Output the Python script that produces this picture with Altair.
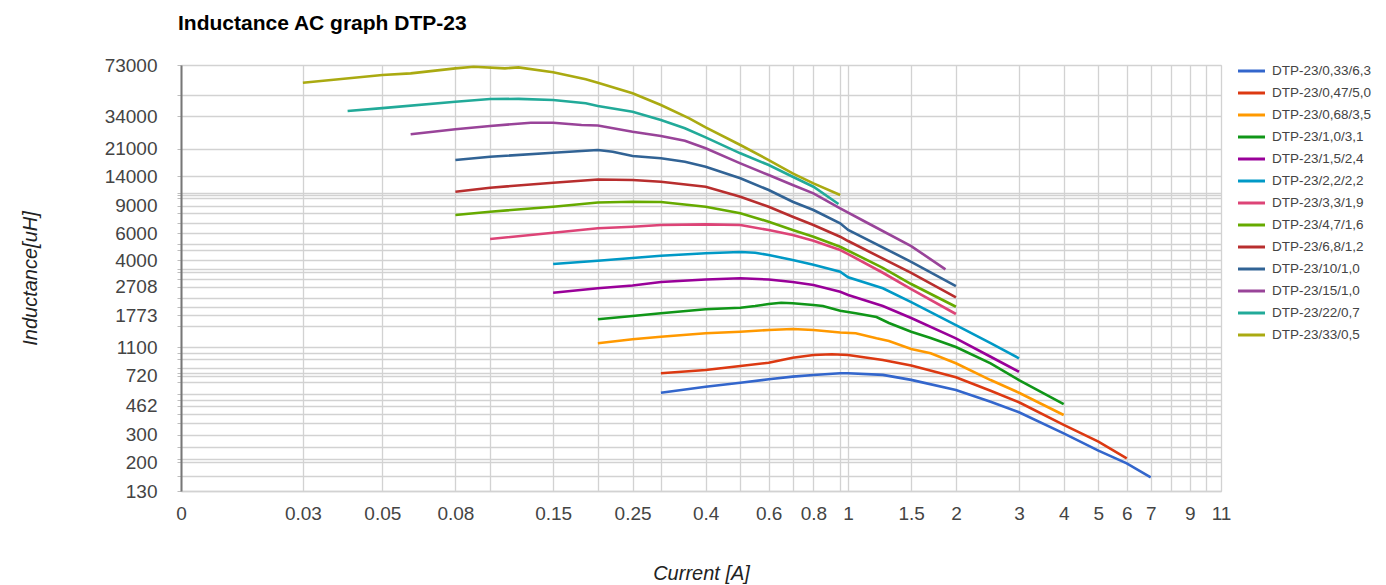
import json
import altair as alt
import pandas as pd

FONT = "Liberation Sans"

names = [
    "DTP-23/0,33/6,3", "DTP-23/0,47/5,0", "DTP-23/0,68/3,5", "DTP-23/1,0/3,1",
    "DTP-23/1,5/2,4", "DTP-23/2,2/2,2", "DTP-23/3,3/1,9", "DTP-23/4,7/1,6",
    "DTP-23/6,8/1,2", "DTP-23/10/1,0", "DTP-23/15/1,0", "DTP-23/22/0,7",
    "DTP-23/33/0,5",
]
colors = ["#3366cc", "#dc3912", "#ff9900", "#109618", "#990099", "#0099c6",
          "#dd4477", "#66aa00", "#b82e2e", "#316395", "#994499", "#22aa99",
          "#aaaa11"]

i_033 = [0.3, 0.4, 0.5, 0.6, 0.7, 0.8, 0.95, 1.0, 1.25, 1.5, 2, 2.5, 3, 4, 5, 6, 7]
l_033 = [560, 612, 650, 684, 711, 729, 748, 748, 730, 678, 583, 490, 419, 306, 237, 196, 159]

i_047 = [0.3, 0.4, 0.5, 0.6, 0.7, 0.8, 0.9, 1.0, 1.25, 1.5, 2, 2.5, 3, 4, 5, 6]
l_047 = [748, 785, 833, 875, 943, 981, 991, 981, 910, 839, 704, 577, 486, 347, 271, 211]

i_068 = [0.2, 0.25, 0.3, 0.4, 0.5, 0.6, 0.7, 0.8, 0.95, 1.05, 1.2, 1.3, 1.5, 1.7, 2, 2.5, 3, 4]
l_068 = [1167, 1239, 1287, 1354, 1387, 1422, 1443, 1422, 1370, 1354, 1257, 1208, 1072, 1006, 867, 676, 560, 402]

i_10 = [0.2, 0.25, 0.3, 0.4, 0.5, 0.55, 0.6, 0.65, 0.7, 0.8, 0.85, 0.95, 1.05, 1.2, 1.3, 1.5, 1.7, 2, 2.5, 3, 4]
l_10 = [1667, 1751, 1823, 1935, 1981, 2032, 2093, 2134, 2115, 2062, 2032, 1894, 1823, 1725, 1578, 1387, 1263, 1105, 867, 676, 473]

i_15 = [0.15, 0.2, 0.25, 0.3, 0.4, 0.5, 0.6, 0.7, 0.8, 0.95, 1.0, 1.25, 1.5, 2, 2.5, 3]
l_15 = [2476, 2643, 2755, 2903, 3012, 3066, 3012, 2903, 2776, 2512, 2392, 2030, 1700, 1257, 956, 765]

i_22 = [0.15, 0.2, 0.25, 0.3, 0.4, 0.5, 0.55, 0.6, 0.7, 0.8, 0.95, 1.0, 1.25, 1.5, 2, 2.5, 3]
l_22 = [3792, 3983, 4147, 4292, 4446, 4531, 4485, 4334, 4025, 3753, 3383, 3111, 2643, 2150, 1531, 1170, 934]

i_33 = [0.1, 0.15, 0.2, 0.25, 0.3, 0.4, 0.5, 0.6, 0.7, 0.8, 0.95, 1.0, 1.25, 1.5, 2]
l_33 = [5498, 6039, 6447, 6601, 6769, 6839, 6769, 6284, 5834, 5362, 4668, 4398, 3330, 2615, 1804]

i_47 = [0.08, 0.1, 0.15, 0.2, 0.25, 0.3, 0.4, 0.5, 0.6, 0.7, 0.8, 0.95, 1.25, 1.5, 2]
l_47 = [7852, 8249, 8884, 9456, 9568, 9530, 8884, 8054, 7111, 6284, 5689, 4904, 3584, 2817, 2010]

i_68 = [0.08, 0.1, 0.15, 0.2, 0.25, 0.3, 0.4, 0.5, 0.6, 0.7, 0.8, 0.95, 1.0, 1.5, 2]
l_68 = [11100, 11780, 12690, 13310, 13210, 12880, 11960, 10310, 8884, 7658, 6769, 5689, 5337, 3320, 2311]

i_100 = [0.08, 0.1, 0.15, 0.2, 0.22, 0.25, 0.3, 0.35, 0.4, 0.5, 0.6, 0.7, 0.8, 0.95, 1.0, 1.5, 2]
l_100 = [17780, 18680, 19810, 20630, 20110, 18870, 18240, 17340, 16100, 13550, 11390, 9568, 8460, 6944, 6284, 3920, 2734]

i_150 = [0.06, 0.08, 0.1, 0.13, 0.15, 0.18, 0.2, 0.25, 0.3, 0.35, 0.4, 0.5, 0.6, 0.7, 0.8, 0.95, 1.13, 1.5, 1.87]
l_150 = [26060, 28070, 29480, 30960, 30960, 29920, 29700, 27080, 25400, 23690, 21160, 16930, 14220, 12260, 10840, 8674, 7000, 4950, 3505]

i_220 = [0.04, 0.05, 0.08, 0.1, 0.12, 0.15, 0.185, 0.2, 0.25, 0.3, 0.35, 0.4, 0.5, 0.6, 0.7, 0.8, 0.94]
l_220 = [36840, 38450, 42290, 44020, 44130, 43370, 41300, 39660, 36450, 32230, 28490, 24920, 19650, 16510, 13870, 11960, 9247]

i_330 = [0.03, 0.05, 0.06, 0.08, 0.09, 0.11, 0.12, 0.15, 0.185, 0.2, 0.25, 0.3, 0.36, 0.4, 0.5, 0.6, 0.7, 0.8, 0.95]
l_330 = [56080, 62890, 64490, 69460, 71120, 69460, 70500, 65460, 59000, 56080, 47920, 40260, 33050, 28910, 22230, 17780, 14590, 12580, 10570]

series_i = [i_033, i_047, i_068, i_10, i_15, i_22, i_33, i_47, i_68, i_100, i_150, i_220, i_330]
series_l = [l_033, l_047, l_068, l_10, l_15, l_22, l_33, l_47, l_68, l_100, l_150, l_220, l_330]

# axis ticks / labels / grid lines
x_labels = [0.03, 0.05, 0.08, 0.15, 0.25, 0.4, 0.6, 0.8, 1, 1.5, 2, 3, 4, 5, 6, 7, 9, 11]
x_grid = [0.0137, 0.03, 0.05, 0.08, 0.1, 0.15, 0.2, 0.25, 0.3, 0.4, 0.5, 0.6, 0.7,
          0.8, 0.95, 1, 1.5, 2, 3, 4, 5, 6, 7, 8, 9, 10, 11]
y_labels = [130, 200, 300, 462, 720, 1100, 1773, 2708, 4000, 6000, 9000, 14000,
            21000, 34000, 73000]
y_grid = [130, 163, 200, 209, 251, 300, 359, 406, 462, 503, 547, 660, 720, 754,
          812, 920, 1015, 1100, 1508, 1773, 2011, 2278, 2708, 3033, 3354, 3508,
          4000, 4670, 5080, 6000, 7010, 8125, 9000, 10060, 10570, 10940, 14000,
          21000, 34000, 46700, 73000]

rows = []
for name, xs, ys in zip(names, series_i, series_l):
    for k, (a, b) in enumerate(zip(xs, ys)):
        rows.append({"series": name, "I": a, "L": b, "k": k})
df = pd.DataFrame(rows)

x_expr = ("datum.value < 0.02 ? '0' : (indexof(" + json.dumps(x_labels) +
          ", datum.value) >= 0 ? format(datum.value, '~g') : '')")
y_expr = ("indexof(" + json.dumps(y_labels) +
          ", datum.value) >= 0 ? format(datum.value, 'd') : ''")

chart = alt.Chart(df).mark_line(strokeWidth=2.6, clip=True).encode(
    x=alt.X("I:Q",
            scale=alt.Scale(type="log", domain=[0.0137, 11], nice=False),
            axis=alt.Axis(values=x_grid, labelExpr=x_expr, labelOverlap=False,
                          labelFlush=False, labelFontSize=19, labelColor="#444444",
                          labelFont=FONT, labelPadding=13, ticks=False,
                          grid=True, gridColor="#d2d2d2", gridWidth=1.3,
                          domainColor="#d2d2d2", domainWidth=1.3,
                          title="Current [A]", titleFont=FONT, titleFontSize=20,
                          titleFontStyle="italic", titleFontWeight="normal",
                          titleColor="#222222", titleY=82, titleBaseline="middle")),
    y=alt.Y("L:Q",
            scale=alt.Scale(type="log", domain=[130, 73000], nice=False),
            axis=alt.Axis(values=y_grid, labelExpr=y_expr, labelOverlap=False,
                          labelFontSize=19, labelColor="#444444", labelFont=FONT,
                          labelPadding=20, tickSize=4, tickColor="#bdbdbd",
                          grid=True, gridColor="#d2d2d2", gridWidth=1.3,
                          domainColor="#777777", domainWidth=2,
                          title="Inductance[uH]", titleFont=FONT, titleFontSize=20,
                          titleFontStyle="italic", titleFontWeight="normal",
                          titleColor="#222222", titleAngle=270, titleX=-151,
                          titleY=213, titleAlign="center", titleBaseline="middle")),
    color=alt.Color("series:N",
                    scale=alt.Scale(domain=names, range=colors),
                    legend=alt.Legend(title=None, orient="none", legendX=1060,
                                      legendY=-4.5, symbolType="M-1.5,0H1.5",
                                      symbolSize=324, symbolStrokeWidth=3,
                                      labelFontSize=13.5, labelFont=FONT,
                                      labelColor="#444444", labelOffset=10,
                                      rowPadding=5)),
    order="k:Q",
).properties(
    width=1040,
    height=426,
    autosize="none",
    padding={"left": 173, "top": 57, "right": 155, "bottom": 100},
    title=alt.TitleParams("Inductance AC graph DTP-23", anchor="start",
                          frame="group", fontSize=21, fontWeight="bold",
                          font=FONT, color="#000000", dx=-3, offset=22),
).configure_view(strokeWidth=0).configure(background="white")

chart.save("out.html", embed_options={"renderer": "svg", "actions": False})
